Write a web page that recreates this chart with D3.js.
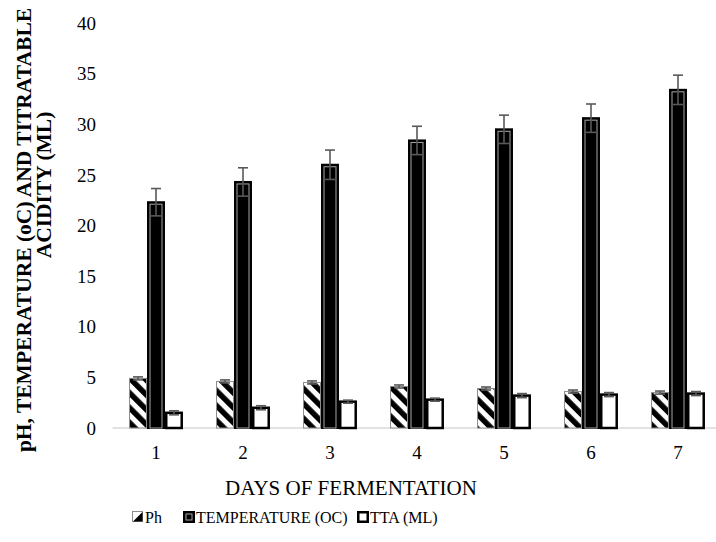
<!DOCTYPE html>
<html>
<head>
<meta charset="utf-8">
<script src="https://cdn.jsdelivr.net/npm/d3@7/dist/d3.min.js"></script>
<style>
  html, body { margin: 0; padding: 0; background: #fff; }
  svg { display: block; }
  text { font-family: "Liberation Serif", "Times New Roman", serif; fill: #000; }
</style>
</head>
<body>
<svg id="chart" width="716" height="542"></svg>
<script>
const days = ["1", "2", "3", "4", "5", "6", "7"];
const seriesNames = ["Ph", "TEMPERATURE (OC)", "TTA (ML)"];
const phValues = [4.9, 4.6, 4.5, 4.1, 3.9, 3.6, 3.5];
const phErrors = [0.15, 0.15, 0.15, 0.15, 0.15, 0.15, 0.15];
const tempValues = [22.3, 24.3, 26.0, 28.4, 29.5, 30.6, 33.4];
const tempErrors = [1.35, 1.4, 1.45, 1.4, 1.4, 1.4, 1.45];
const ttaValues = [1.5, 2.0, 2.6, 2.8, 3.2, 3.3, 3.4];
const ttaErrors = [0.2, 0.2, 0.15, 0.15, 0.2, 0.2, 0.2];
const yTicks = [0, 5, 10, 15, 20, 25, 30, 35, 40];

const values = [phValues, tempValues, ttaValues];
const errors = [phErrors, tempErrors, ttaErrors];

const svg = d3.select("#chart");
const defs = svg.append("defs");
const pat = defs.append("pattern")
  .attr("id", "stripes")
  .attr("patternUnits", "userSpaceOnUse")
  .attr("width", 10.5).attr("height", 10.5)
  .attr("patternTransform", "rotate(-45)");
pat.append("rect").attr("width", 10.5).attr("height", 10.5).attr("fill", "#fff");
pat.append("rect").attr("width", 5.5).attr("height", 10.5).attr("fill", "#000");

const x0 = d3.scaleBand().domain(days).range([112.5, 721.5]).paddingInner(0.38).paddingOuter(0.19);
const x1 = d3.scaleBand().domain(seriesNames).range([0, x0.bandwidth()]);
const y = d3.scaleLinear().domain([0, 40]).range([428, 23]);

// y tick labels
svg.append("g").selectAll("text").data(yTicks).join("text")
  .attr("x", 96).attr("y", d => y(d)).attr("dy", "0.35em")
  .attr("text-anchor", "end").style("font-size", "19px")
  .text(d => d);

// baseline
svg.append("line").attr("x1", 112.5).attr("x2", 716).attr("y1", y(0)).attr("y2", y(0))
  .attr("stroke", "#d9d9d9").attr("stroke-width", 1.5);

// bars
const rows = [];
days.forEach((d, i) => seriesNames.forEach((s, j) => rows.push({ day: d, s, j, v: values[j][i], e: errors[j][i] })));

const g = svg.append("g");
rows.forEach(r => {
  const bx = x0(r.day) + x1(r.s);
  const bw = x1.bandwidth();
  const top = y(r.v), h = y(0) - y(r.v);
  if (r.j === 0) {
    g.append("rect").attr("x", bx + 0.5).attr("y", top).attr("width", bw - 1).attr("height", h)
      .attr("fill", "url(#stripes)").attr("stroke", "#8c8c8c").attr("stroke-width", 1);
  } else if (r.j === 1) {
    g.append("rect").attr("x", bx + 1).attr("y", top).attr("width", bw - 2).attr("height", h)
      .attr("fill", "#000").attr("stroke", "#000").attr("stroke-width", 2);
    g.append("rect").attr("x", bx + 3).attr("y", top + 2).attr("width", bw - 6).attr("height", h - 2)
      .attr("fill", "none").attr("stroke", "#a6a6a6").attr("stroke-width", 1);
  } else {
    g.append("rect").attr("x", bx + 1.25).attr("y", top).attr("width", bw - 2.5).attr("height", h)
      .attr("fill", "#fff").attr("stroke", "#000").attr("stroke-width", 2.5);
  }
});

// error bars
const eg = svg.append("g").attr("stroke", "#595959").attr("stroke-width", 1.6);
rows.forEach(r => {
  const cx = x0(r.day) + x1(r.s) + x1.bandwidth() / 2;
  const y1 = y(r.v + r.e), y2 = y(r.v - r.e);
  eg.append("line").attr("x1", cx).attr("x2", cx).attr("y1", y1).attr("y2", y2);
  eg.append("line").attr("x1", cx - 5).attr("x2", cx + 5).attr("y1", y1).attr("y2", y1);
  eg.append("line").attr("x1", cx - 5).attr("x2", cx + 5).attr("y1", y2).attr("y2", y2);
});

// x tick labels
svg.append("g").selectAll("text").data(days).join("text")
  .attr("x", d => x0(d) + x0.bandwidth() / 2).attr("y", 452).attr("dy", "0.35em")
  .attr("text-anchor", "middle").style("font-size", "19px")
  .text(d => d);

// x title
svg.append("text").attr("x", 351).attr("y", 488).attr("dy", "0.35em")
  .attr("text-anchor", "middle").style("font-size", "21px")
  .text("DAYS OF FERMENTATION");

// y title
const yt = svg.append("g").attr("transform", "rotate(-90)");
yt.append("text").attr("x", -230).attr("y", 23).attr("dy", "0.35em")
  .attr("text-anchor", "middle").style("font-size", "21.5px").style("font-weight", "bold")
  .text("pH, TEMPERATURE (oC) AND TITRATABLE");
yt.append("text").attr("x", -185).attr("y", 43).attr("dy", "0.35em")
  .attr("text-anchor", "middle").style("font-size", "21.5px").style("font-weight", "bold")
  .text("ACIDITY (ML)");

// legend
const legX = [132, 183, 357];
const lg = svg.append("g");
seriesNames.forEach((s, j) => {
  const lx = legX[j], ly = 511;
  if (j === 0) {
    lg.append("rect").attr("x", lx + 0.5).attr("y", ly + 0.5).attr("width", 10).attr("height", 10)
      .attr("fill", "#fff").attr("stroke", "#8c8c8c");
    lg.append("path").attr("d", `M${lx + 1},${ly + 10.5} L${lx + 10.5},${ly + 1} L${lx + 10.5},${ly + 10.5} Z`)
      .attr("fill", "#000");
  } else if (j === 1) {
    lg.append("rect").attr("x", lx + 1).attr("y", ly + 1).attr("width", 10).attr("height", 10)
      .attr("fill", "#000").attr("stroke", "#000").attr("stroke-width", 2);
    lg.append("rect").attr("x", lx + 3).attr("y", ly + 3).attr("width", 6).attr("height", 6)
      .attr("fill", "none").attr("stroke", "#a6a6a6").attr("stroke-width", 1);
  } else {
    lg.append("rect").attr("x", lx + 1.25).attr("y", ly + 1.25).attr("width", 9.5).attr("height", 9.5)
      .attr("fill", "#fff").attr("stroke", "#000").attr("stroke-width", 2.5);
  }
  lg.append("text").attr("x", lx + 13).attr("y", ly + 6).attr("dy", "0.35em")
    .style("font-size", "16px").text(s);
});
</script>
</body>
</html>
